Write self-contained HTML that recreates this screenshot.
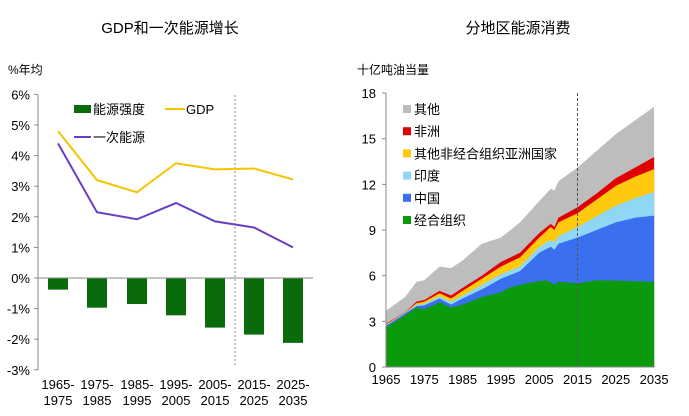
<!DOCTYPE html>
<html><head><meta charset="utf-8"><style>
body{margin:0;background:#fff;width:689px;height:411px;overflow:hidden}
svg text{font-family:"Liberation Sans","Noto Sans CJK SC",sans-serif;fill:#000}
</style></head><body>
<svg id="s" width="689" height="411" xmlns="http://www.w3.org/2000/svg">
<text x="170" y="33" font-size="15" text-anchor="middle">GDP和一次能源增长</text>
<text x="518" y="33" font-size="15" text-anchor="middle">分地区能源消费</text>
<text x="8" y="74" font-size="12">%年均</text>
<text x="357" y="74" font-size="12">十亿吨油当量</text>
<g id="L"></g><g id="R"></g>
</svg>
<script>
var NS="http://www.w3.org/2000/svg";
function el(p,t,a,txt){var e=document.createElementNS(NS,t);for(var k in a)e.setAttribute(k,a[k]);if(txt!=null)e.textContent=txt;p.appendChild(e);return e;}
var L=document.getElementById("L"),R=document.getElementById("R");
// left
function ly(v){return 278-v*30.6;}
el(L,"line",{x1:38,y1:95,x2:38,y2:370,stroke:"#888"});
for(var i=-3;i<=6;i++){el(L,"line",{x1:34,y1:ly(i),x2:38,y2:ly(i),stroke:"#888"});el(L,"text",{x:30,y:ly(i)+5,"font-size":13,"text-anchor":"end"},i+"%");}
var cx=[58,97,137,176,215,254,293];
var inten=[-0.38,-0.97,-0.85,-1.22,-1.62,-1.85,-2.12],gdp=[4.8,3.2,2.8,3.75,3.55,3.58,3.22],pe=[4.4,2.15,1.92,2.45,1.85,1.65,1.0];
var labs=[["1965-","1975"],["1975-","1985"],["1985-","1995"],["1995-","2005"],["2005-","2015"],["2015-","2025"],["2025-","2035"]];
cx.forEach(function(x,i){el(L,"rect",{x:x-10,y:278,width:20,height:-inten[i]*30.6,fill:"#0a6b0a"});
el(L,"text",{x:x,y:389,"font-size":13,"text-anchor":"middle"},labs[i][0]);el(L,"text",{x:x,y:405,"font-size":13,"text-anchor":"middle"},labs[i][1]);});
el(L,"line",{x1:38,y1:278,x2:313,y2:278,stroke:"#888"});
el(L,"line",{x1:235,y1:95,x2:235,y2:365,stroke:"#888","stroke-dasharray":"2,2"});
el(L,"polyline",{points:cx.map(function(x,i){return x+","+ly(gdp[i]);}).join(" "),fill:"none",stroke:"#f5c400","stroke-width":2});
el(L,"polyline",{points:cx.map(function(x,i){return x+","+ly(pe[i]);}).join(" "),fill:"none",stroke:"#6a3fc4","stroke-width":2});
el(L,"rect",{x:74,y:105,width:17,height:8,fill:"#0a6b0a"});el(L,"text",{x:93,y:114,"font-size":13},"能源强度");
el(L,"line",{x1:165,y1:109,x2:185,y2:109,stroke:"#f5c400","stroke-width":2});el(L,"text",{x:186,y:114,"font-size":13},"GDP");
el(L,"line",{x1:74,y1:137,x2:91,y2:137,stroke:"#6a3fc4","stroke-width":2});el(L,"text",{x:93,y:142,"font-size":13},"一次能源");
// right
function rx(y){return 386+(y-1965)*3.83;} function ry(v){return 367-v*15.22;}
var S=[
{c:"#bdbdbd",d:[[1965,3.7],[1970,4.6],[1973,5.6],[1975,5.7],[1979,6.6],[1982,6.5],[1985,7.0],[1990,8.1],[1995,8.5],[2000,9.5],[2005,10.9],[2008,11.7],[2009,11.6],[2010,12.2],[2015,13.1],[2020,14.2],[2025,15.3],[2030,16.2],[2035,17.1]]},
{c:"#e00000",d:[[1965,2.85],[1970,3.6],[1973,4.3],[1975,4.4],[1979,5.0],[1982,4.7],[1985,5.2],[1990,6.0],[1995,6.9],[2000,7.5],[2005,8.8],[2008,9.4],[2009,9.2],[2010,9.8],[2015,10.5],[2020,11.4],[2025,12.4],[2030,13.1],[2035,13.8]]},
{c:"#ffc90e",d:[[1965,2.8],[1970,3.58],[1973,4.2],[1975,4.3],[1979,4.85],[1982,4.5],[1985,5.0],[1990,5.8],[1995,6.6],[2000,7.2],[2005,8.5],[2008,9.2],[2009,9.0],[2010,9.5],[2015,10.1],[2020,11.0],[2025,11.9],[2030,12.5],[2035,13.0]]},
{c:"#8fd8f5",d:[[1965,2.75],[1970,3.56],[1973,4.1],[1975,4.15],[1979,4.65],[1982,4.3],[1985,4.7],[1990,5.4],[1995,6.1],[2000,6.6],[2005,7.9],[2008,8.35],[2009,8.2],[2010,8.6],[2015,9.2],[2020,9.9],[2025,10.6],[2030,11.1],[2035,11.5]]},
{c:"#3a6ff0",d:[[1965,2.7],[1970,3.52],[1973,4.0],[1975,4.05],[1979,4.5],[1982,4.1],[1985,4.5],[1990,5.1],[1995,5.8],[2000,6.3],[2005,7.5],[2008,7.9],[2009,7.7],[2010,8.1],[2015,8.5],[2020,9.0],[2025,9.5],[2030,9.8],[2035,9.95]]},
{c:"#0b9a0b",d:[[1965,2.6],[1970,3.4],[1973,3.9],[1975,3.8],[1979,4.25],[1982,3.9],[1985,4.1],[1990,4.6],[1995,4.9],[1997,5.2],[2000,5.4],[2005,5.65],[2007,5.7],[2009,5.4],[2010,5.6],[2015,5.5],[2020,5.7],[2025,5.68],[2035,5.6]]}];
S.forEach(function(s){var p="M"+rx(1965)+","+ry(0);s.d.forEach(function(q){p+=" L"+rx(q[0]).toFixed(1)+","+ry(q[1]).toFixed(1);});p+=" L"+rx(2035)+","+ry(0)+"Z";el(R,"path",{d:p,fill:s.c});});
el(R,"line",{x1:386,y1:93,x2:386,y2:367,stroke:"#888"});
el(R,"line",{x1:386,y1:367,x2:655,y2:367,stroke:"#888"});
for(var v=0;v<=18;v+=3){el(R,"line",{x1:382,y1:ry(v),x2:386,y2:ry(v),stroke:"#888"});el(R,"text",{x:376,y:ry(v)+5,"font-size":13,"text-anchor":"end"},v);}
for(var y=1965;y<=2035;y+=10){el(R,"text",{x:rx(y),y:384,"font-size":13,"text-anchor":"middle"},y);}
el(R,"line",{x1:577.5,y1:93,x2:577.5,y2:367,stroke:"#555","stroke-dasharray":"3,2"});
var lg=[["#bdbdbd","其他"],["#e00000","非洲"],["#ffc90e","其他非经合组织亚洲国家"],["#8fd8f5","印度"],["#3a6ff0","中国"],["#0b9a0b","经合组织"]];
lg.forEach(function(g,i){var yy=109+i*22.2;el(R,"rect",{x:403,y:yy-4,width:8,height:8,fill:g[0]});el(R,"text",{x:414,y:yy+5,"font-size":13},g[1]);});
</script>
</body></html>
